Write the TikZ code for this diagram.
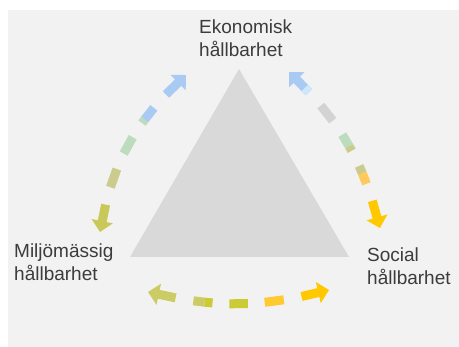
\documentclass[tikz,border=0pt]{standalone}
\usepackage{fontspec}
\setmainfont{Liberation Sans}
\usetikzlibrary{arrows.meta}
\definecolor{bggray}{HTML}{F2F2F2}
\definecolor{trigray}{HTML}{D9D9D9}
\definecolor{labelgray}{HTML}{3C3C3C}
\definecolor{blueA}{HTML}{A9CAF2}
\definecolor{cyanA}{HTML}{CDE8FB}
\definecolor{greenA}{HTML}{BCDCBD}
\definecolor{tanA}{HTML}{CBCB8E}
\definecolor{oliveA}{HTML}{C9C95A}
\definecolor{grayA}{HTML}{D3D3D3}
\definecolor{orangeA}{HTML}{FFCA5C}
\definecolor{goldA}{HTML}{FFC800}
\definecolor{amberA}{HTML}{FFC930}
\definecolor{oliveB}{HTML}{CACB35}
\definecolor{oliveC}{HTML}{CCCC66}
\begin{document}
\begin{tikzpicture}[x=1pt, y=-1pt,
    piece/.style={line width=9pt},
    head/.style={-{Triangle[width=21pt, length=11pt]}},
    lbl/.style={anchor=base west, inner sep=0pt, align=left, text=labelgray,
        font=\fontsize{19}{23}\selectfont}]
    \useasboundingbox (0, 0) rectangle (459, 347);
        \fill[bggray] (8, 10) rectangle (459, 347);
        \fill[trigray] (239, 69) -- (349, 257) -- (130, 257) -- cycle;
        \node[lbl] (eko) at (199, 57) {Ekonomisk\\hållbarhet};
        \node[lbl] (milj) at (14, 281) {Miljömässig\\hållbarhet};
        \node[lbl] (soc) at (367, 285) {Social\\hållbarhet};
        %
        \coordinate (me-a) at (100, 232);
        \coordinate (me-b) at (186, 75);
        \coordinate (es-a) at (289, 72);
        \coordinate (es-b) at (380, 228);
        \coordinate (sm-a) at (329, 290);
        \coordinate (sm-b) at (148, 292);
        %
        \path (me-a) to[bend left=19] coordinate[pos=.14] (me1) coordinate[pos=.237] (me2)
            coordinate[pos=.346] (me3) coordinate[pos=.445] (me4) coordinate[pos=.555] (me5)
            coordinate[pos=.654] (me6) coordinate[pos=.68] (me6h) coordinate[pos=.763] (me7)
            coordinate[pos=.86] (me8) (me-b);
        \path (es-a) to[bend left=16] coordinate[pos=.14] (es1) coordinate[pos=.11] (es1h)
            coordinate[pos=.237] (es2) coordinate[pos=.346] (es3) coordinate[pos=.445] (es4)
            coordinate[pos=.525] (es5h) coordinate[pos=.555] (es5) coordinate[pos=.654] (es6)
            coordinate[pos=.70] (es6h) coordinate[pos=.763] (es7) coordinate[pos=.86] (es8) (es-b);
        \path (sm-a) to[bend left=14] coordinate[pos=.14] (sm1) coordinate[pos=.237] (sm2)
            coordinate[pos=.346] (sm3) coordinate[pos=.445] (sm4) coordinate[pos=.555] (sm5)
            coordinate[pos=.654] (sm6) coordinate[pos=.70] (sm6h) coordinate[pos=.763] (sm7)
            coordinate[pos=.86] (sm8) (sm-b);
        % left
        \draw[piece, head, oliveA] (me1) -- (me-a);
        \draw[piece, tanA] (me2) -- (me3);
        \draw[piece, greenA] (me4) -- (me5);
        \draw[piece, greenA] (me6) -- (me6h);
        \draw[piece, blueA] (me6h) -- (me7);
        \draw[piece, head, blueA] (me8) -- (me-b);
        % right
        \draw[piece, head, blueA] (es1) -- (es-a);
        \draw[piece, cyanA] (es1) -- (es1h);
        \draw[piece, grayA] (es2) -- (es3);
        \draw[piece, greenA] (es4) -- (es5h);
        \draw[piece, tanA] (es5h) -- (es5);
        \draw[piece, tanA] (es6) -- (es6h);
        \draw[piece, orangeA] (es6h) -- (es7);
        \draw[piece, head, goldA] (es8) -- (es-b);
        % bottom
        \draw[piece, head, goldA] (sm1) -- (sm-a);
        \draw[piece, amberA] (sm2) -- (sm3);
        \draw[piece, oliveB] (sm4) -- (sm5);
        \draw[piece, oliveB] (sm6) -- (sm6h);
        \draw[piece, oliveC] (sm6h) -- (sm7);
        \draw[piece, head, oliveC] (sm8) -- (sm-b);
    \end{tikzpicture}
\end{document}
